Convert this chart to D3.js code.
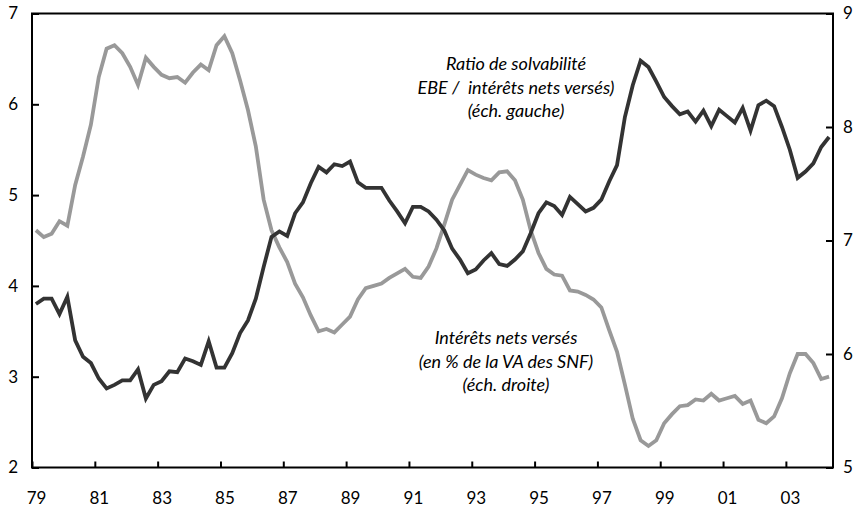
<!DOCTYPE html>
<html><head><meta charset="utf-8">
<script src="https://cdn.jsdelivr.net/npm/d3@7"></script>
<style>
html,body{margin:0;padding:0;background:#fff;}
svg{display:block;}
text{font-family:Lato,"Open Sans",sans-serif;fill:#000;}
</style></head>
<body><svg id="c" width="864" height="511"></svg>
<script>
// Quarterly data, 1979Q1 .. 2004Q2
const startYear = 1979;
const nQuarters = 102;
// Ratio de solvabilité (EBE / intérêts nets versés), left scale
const ratio = [3.80,3.86,3.86,3.69,3.88,3.40,3.22,3.15,2.98,2.87,2.91,2.96,2.96,3.08,2.76,2.91,2.95,3.06,3.05,3.20,3.17,3.13,3.39,3.10,3.10,3.26,3.48,3.62,3.86,4.21,4.54,4.60,4.55,4.80,4.92,5.13,5.31,5.25,5.34,5.32,5.37,5.14,5.08,5.08,5.08,4.94,4.82,4.69,4.87,4.87,4.82,4.73,4.61,4.41,4.29,4.14,4.18,4.28,4.36,4.24,4.22,4.29,4.38,4.58,4.80,4.92,4.88,4.78,4.98,4.90,4.82,4.86,4.95,5.15,5.33,5.86,6.21,6.48,6.41,6.25,6.08,5.98,5.89,5.92,5.81,5.93,5.76,5.94,5.87,5.80,5.96,5.71,5.99,6.04,5.98,5.75,5.50,5.19,5.26,5.35,5.53,5.64];
// Intérêts nets versés (en % de la VA des SNF), right scale
const interets = [7.09,7.03,7.06,7.17,7.13,7.49,7.74,8.02,8.44,8.69,8.72,8.65,8.53,8.37,8.61,8.53,8.46,8.43,8.44,8.39,8.48,8.55,8.50,8.72,8.80,8.65,8.41,8.15,7.83,7.36,7.09,6.94,6.81,6.62,6.50,6.34,6.20,6.22,6.19,6.26,6.33,6.48,6.58,6.60,6.62,6.67,6.71,6.75,6.68,6.67,6.77,6.93,7.14,7.36,7.49,7.62,7.58,7.55,7.53,7.60,7.61,7.53,7.36,7.09,6.89,6.75,6.70,6.69,6.56,6.55,6.52,6.48,6.41,6.21,6.02,5.73,5.43,5.24,5.19,5.24,5.39,5.47,5.54,5.55,5.60,5.59,5.65,5.59,5.61,5.63,5.56,5.59,5.42,5.39,5.45,5.61,5.83,6.00,6.00,5.92,5.78,5.80];
const xTickYears = [1979,1981,1983,1985,1987,1989,1991,1993,1995,1997,1999,2001,2003];
const xTickLabels = ["79","81","83","85","87","89","91","93","95","97","99","01","03"];
const leftTicks = [2,3,4,5,6,7];
const rightTicks = [5,6,7,8,9];
const labelRatio = ["Ratio de solvabilité","EBE /  intérêts nets versés)","(éch. gauche)"];
const labelInterets = ["Intérêts nets versés","(en % de la VA des SNF)","(éch. droite)"];

const svg = d3.select("#c");
const L = 32, R = 833, T = 13.5, B = 467.5;
const x = d3.scaleLinear().domain([startYear, startYear + nQuarters/4]).range([L, R]);
const yL = d3.scaleLinear().domain([2,7]).range([B, T]);
const yR = d3.scaleLinear().domain([5,9]).range([B, T]);
const qx = i => x(startYear + (i + 0.5)/4);

// axes
const gx = svg.append("g").attr("transform",`translate(0,${B})`)
  .call(d3.axisBottom(x).tickValues(xTickYears).tickSizeInner(-6).tickSizeOuter(0)
    .tickFormat((d,i)=>xTickLabels[i]));
gx.selectAll("text").attr("dx", 4).attr("y", 24).style("font-size","17px");
const gl = svg.append("g").attr("transform",`translate(${L},0)`)
  .call(d3.axisLeft(yL).tickValues(leftTicks).tickSizeInner(-7).tickSizeOuter(0).tickFormat(d3.format("d")));
gl.selectAll("text").attr("x", -14).style("font-size","17px");
const gr = svg.append("g").attr("transform",`translate(${R},0)`)
  .call(d3.axisRight(yR).tickValues(rightTicks).tickSizeInner(-7).tickSizeOuter(0).tickFormat(d3.format("d")));
gr.selectAll("text").attr("x", 10).style("font-size","17px");
svg.selectAll(".domain").remove();
svg.selectAll(".tick line").attr("stroke","#000").attr("stroke-width",2);
svg.selectAll(".tick text").attr("font-family",null);

// frame
svg.append("rect").attr("x",L).attr("y",T).attr("width",R-L).attr("height",B-T)
  .attr("fill","none").attr("stroke","#000").attr("stroke-width",2);

// lines
const lineL = d3.line().x((d,i)=>qx(i)).y(d=>yL(d));
const lineR = d3.line().x((d,i)=>qx(i)).y(d=>yR(d));
svg.append("path").datum(interets).attr("d", lineR).attr("fill","none")
  .attr("stroke","#999999").attr("stroke-width",3.8).attr("stroke-linejoin","miter");
svg.append("path").datum(ratio).attr("d", lineL).attr("fill","none")
  .attr("stroke","#333333").attr("stroke-width",3.8).attr("stroke-linejoin","miter");

// annotations
const ann = (lines, cx, y0, dy) => {
  const t = svg.append("text").attr("text-anchor","middle")
    .style("font-style","italic").style("font-size","18px").style("white-space","pre")
    .attr("xml:space","preserve");
  lines.forEach((s,i)=>t.append("tspan").attr("x",cx).attr("y",y0+i*dy).text(s));
};
ann(labelRatio, 516, 70, 23.5);
ann(labelInterets, 506, 344, 23.5);
</script></body></html>
